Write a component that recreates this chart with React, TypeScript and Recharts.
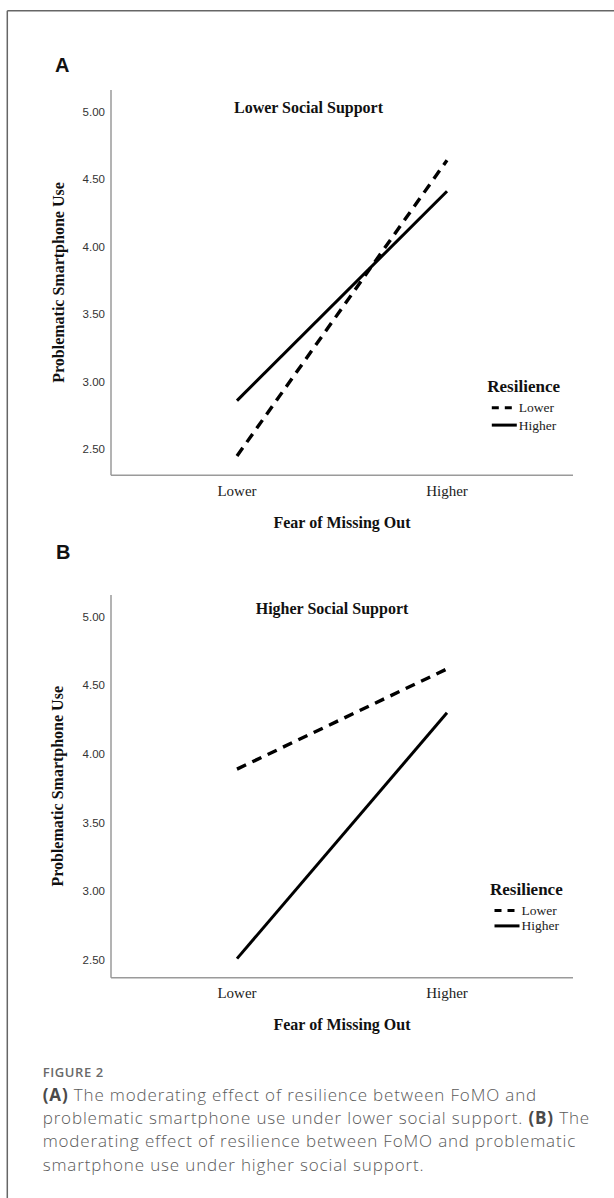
import React from 'react';
import { LineChart, Line, XAxis, YAxis } from 'recharts';

// ---- data ----
const fomoLevels = ['Lower', 'Higher'];
const yTicks = [2.5, 3, 3.5, 4, 4.5, 5];
const resilienceLevels = ['Lower', 'Higher'];

// Panel A: lower social support
const lowerSupportLowerRes = [2.45, 4.64];
const lowerSupportHigherRes = [2.86, 4.41];
// Panel B: higher social support
const higherSupportLowerRes = [3.89, 4.62];
const higherSupportHigherRes = [2.51, 4.3];

const panelADomain: [number, number] = [2.307, 5.16];
const panelBDomain: [number, number] = [2.371, 5.158];

const captionLines = [
  ['(A)', ' The moderating effect of resilience between FoMO and'],
  ['', 'problematic smartphone use under lower social support. ', '(B)', ' The'],
  ['', 'moderating effect of resilience between FoMO and problematic'],
  ['', 'smartphone use under higher social support.'],
];

const buildData = (lowerRes: number[], higherRes: number[]) =>
  fomoLevels.map((f, i) => ({ fomo: f, lowerRes: lowerRes[i], higherRes: higherRes[i] }));

const dataA = buildData(lowerSupportLowerRes, lowerSupportHigherRes);
const dataB = buildData(higherSupportLowerRes, higherSupportHigherRes);

const SERIF = '"Liberation Serif", "Times New Roman", serif';
const SANS = '"Liberation Sans", Arial, sans-serif';
const CAPTION = '"Open Sans", "Noto Sans", sans-serif';
const AXIS = { stroke: '#9a9a9a', strokeWidth: 1.5 };

function Panel({ data, domain, top, mt, mb }: { data: any[]; domain: [number, number]; top: number; mt: number; mb: number }) {
  return (
    <div style={{ position: 'absolute', left: 0, top }}>
      <LineChart width={614} height={540} data={data} margin={{ top: mt, right: 41, bottom: mb, left: 50 }}>
        <XAxis
          dataKey="fomo"
          padding={{ left: 126, right: 126 }}
          axisLine={AXIS}
          tickLine={false}
          tickSize={6}
          tickMargin={4}
          height={30}
          interval={0}
          tick={{ fontFamily: SERIF, fontSize: 15, fill: '#222' }}
        />
        <YAxis
          type="number"
          domain={domain}
          ticks={yTicks}
          allowDataOverflow
          width={61}
          axisLine={AXIS}
          tickLine={false}
          tickSize={4}
          tickMargin={2}
          tickFormatter={(v: number) => v.toFixed(2)}
          tick={{ fontFamily: SANS, fontSize: 11.5, fill: '#333' }}
        />
        <Line
          type="linear"
          dataKey="lowerRes"
          name={resilienceLevels[0]}
          stroke="#000"
          strokeWidth={3.4}
          strokeDasharray="10 7"
          dot={false}
          isAnimationActive={false}
        />
        <Line
          type="linear"
          dataKey="higherRes"
          name={resilienceLevels[1]}
          stroke="#000"
          strokeWidth={3}
          dot={false}
          isAnimationActive={false}
        />
      </LineChart>
    </div>
  );
}

function LegendBlock({ x, y, rowGap }: { x: number; y: number; rowGap: number }) {
  return (
    <g>
      <text x={x} y={y} fontFamily={SERIF} fontWeight="bold" fontSize={17} fill="#111">
        Resilience
      </text>
      {resilienceLevels.map((lvl, i) => {
        const cy = y + 15.5 + i * rowGap;
        return (
          <g key={lvl}>
            <line
              x1={x + 4.5}
              x2={x + 29.5}
              y1={cy}
              y2={cy}
              stroke="#000"
              strokeWidth={3}
              strokeDasharray={i === 0 ? '7 6' : undefined}
            />
            <text x={x + 31.5} y={cy + 4.5} fontFamily={SERIF} fontSize={13.5} fill="#222">
              {lvl}
            </text>
          </g>
        );
      })}
    </g>
  );
}

export default function App() {
  return (
    <div style={{ position: 'absolute', left: 0, top: 0, width: 614, height: 1198, background: '#fff', overflow: 'hidden' }}>
      <Panel data={dataA} domain={panelADomain} top={0} mt={90} mb={34.7} />
      <Panel data={dataB} domain={panelBDomain} top={500} mt={95} mb={32.3} />
      <svg
        width={614}
        height={1198}
        style={{ position: 'absolute', left: 0, top: 0, pointerEvents: 'none' }}
      >
        {/* frame */}
        <line x1={7.3} y1={10.7} x2={614} y2={10.7} stroke="#666" strokeWidth={1.5} />
        <line x1={7.3} y1={10.7} x2={7.3} y2={1198} stroke="#666" strokeWidth={1.5} />

        {/* panel letters */}
        <text x={55} y={72.2} fontFamily={SANS} fontWeight="bold" fontSize={20} fill="#111">A</text>
        <text x={56} y={559} fontFamily={SANS} fontWeight="bold" fontSize={20} fill="#111">B</text>

        {/* panel titles */}
        <text x={308.5} y={112.6} textAnchor="middle" fontFamily={SERIF} fontWeight="bold" fontSize={16} fill="#111">
          Lower Social Support
        </text>
        <text x={332} y={613.6} textAnchor="middle" fontFamily={SERIF} fontWeight="bold" fontSize={16} fill="#111">
          Higher Social Support
        </text>

        {/* y axis titles */}
        <text transform="translate(63.6,282.5) rotate(-90)" textAnchor="middle" fontFamily={SERIF} fontWeight="bold" fontSize={16} fill="#111">
          Problematic Smartphone Use
        </text>
        <text transform="translate(63,786.3) rotate(-90)" textAnchor="middle" fontFamily={SERIF} fontWeight="bold" fontSize={16} fill="#111">
          Problematic Smartphone Use
        </text>

        {/* x axis titles */}
        <text x={342} y={528} textAnchor="middle" fontFamily={SERIF} fontWeight="bold" fontSize={16} fill="#111">
          Fear of Missing Out
        </text>
        <text x={342} y={1030.3} textAnchor="middle" fontFamily={SERIF} fontWeight="bold" fontSize={16} fill="#111">
          Fear of Missing Out
        </text>

        {/* legends */}
        <LegendBlock x={487.3} y={392.3} rowGap={17.3} />
        <LegendBlock x={490} y={895} rowGap={15.4} />

        {/* caption */}
        <text x={42.7} y={1077.3} fontFamily={CAPTION} fontWeight={600} fontSize={13} letterSpacing={0.6} fill="#6a6a6a">
          FIGURE 2
        </text>
        {captionLines.map((parts, i) => (
          <text
            key={i}
            x={42.7}
            y={1101 + i * 23.2}
            fontFamily={CAPTION}
            fontWeight={300}
            fontSize={17}
            letterSpacing={0.85}
            fill="#5a5a5a"
          >
            {parts.map((p, j) =>
              p === '(A)' || p === '(B)' ? (
                <tspan key={j} fontWeight="bold" fill="#4a4a4a">{p}</tspan>
              ) : (
                <tspan key={j}>{p}</tspan>
              )
            )}
          </text>
        ))}
      </svg>
    </div>
  );
}
